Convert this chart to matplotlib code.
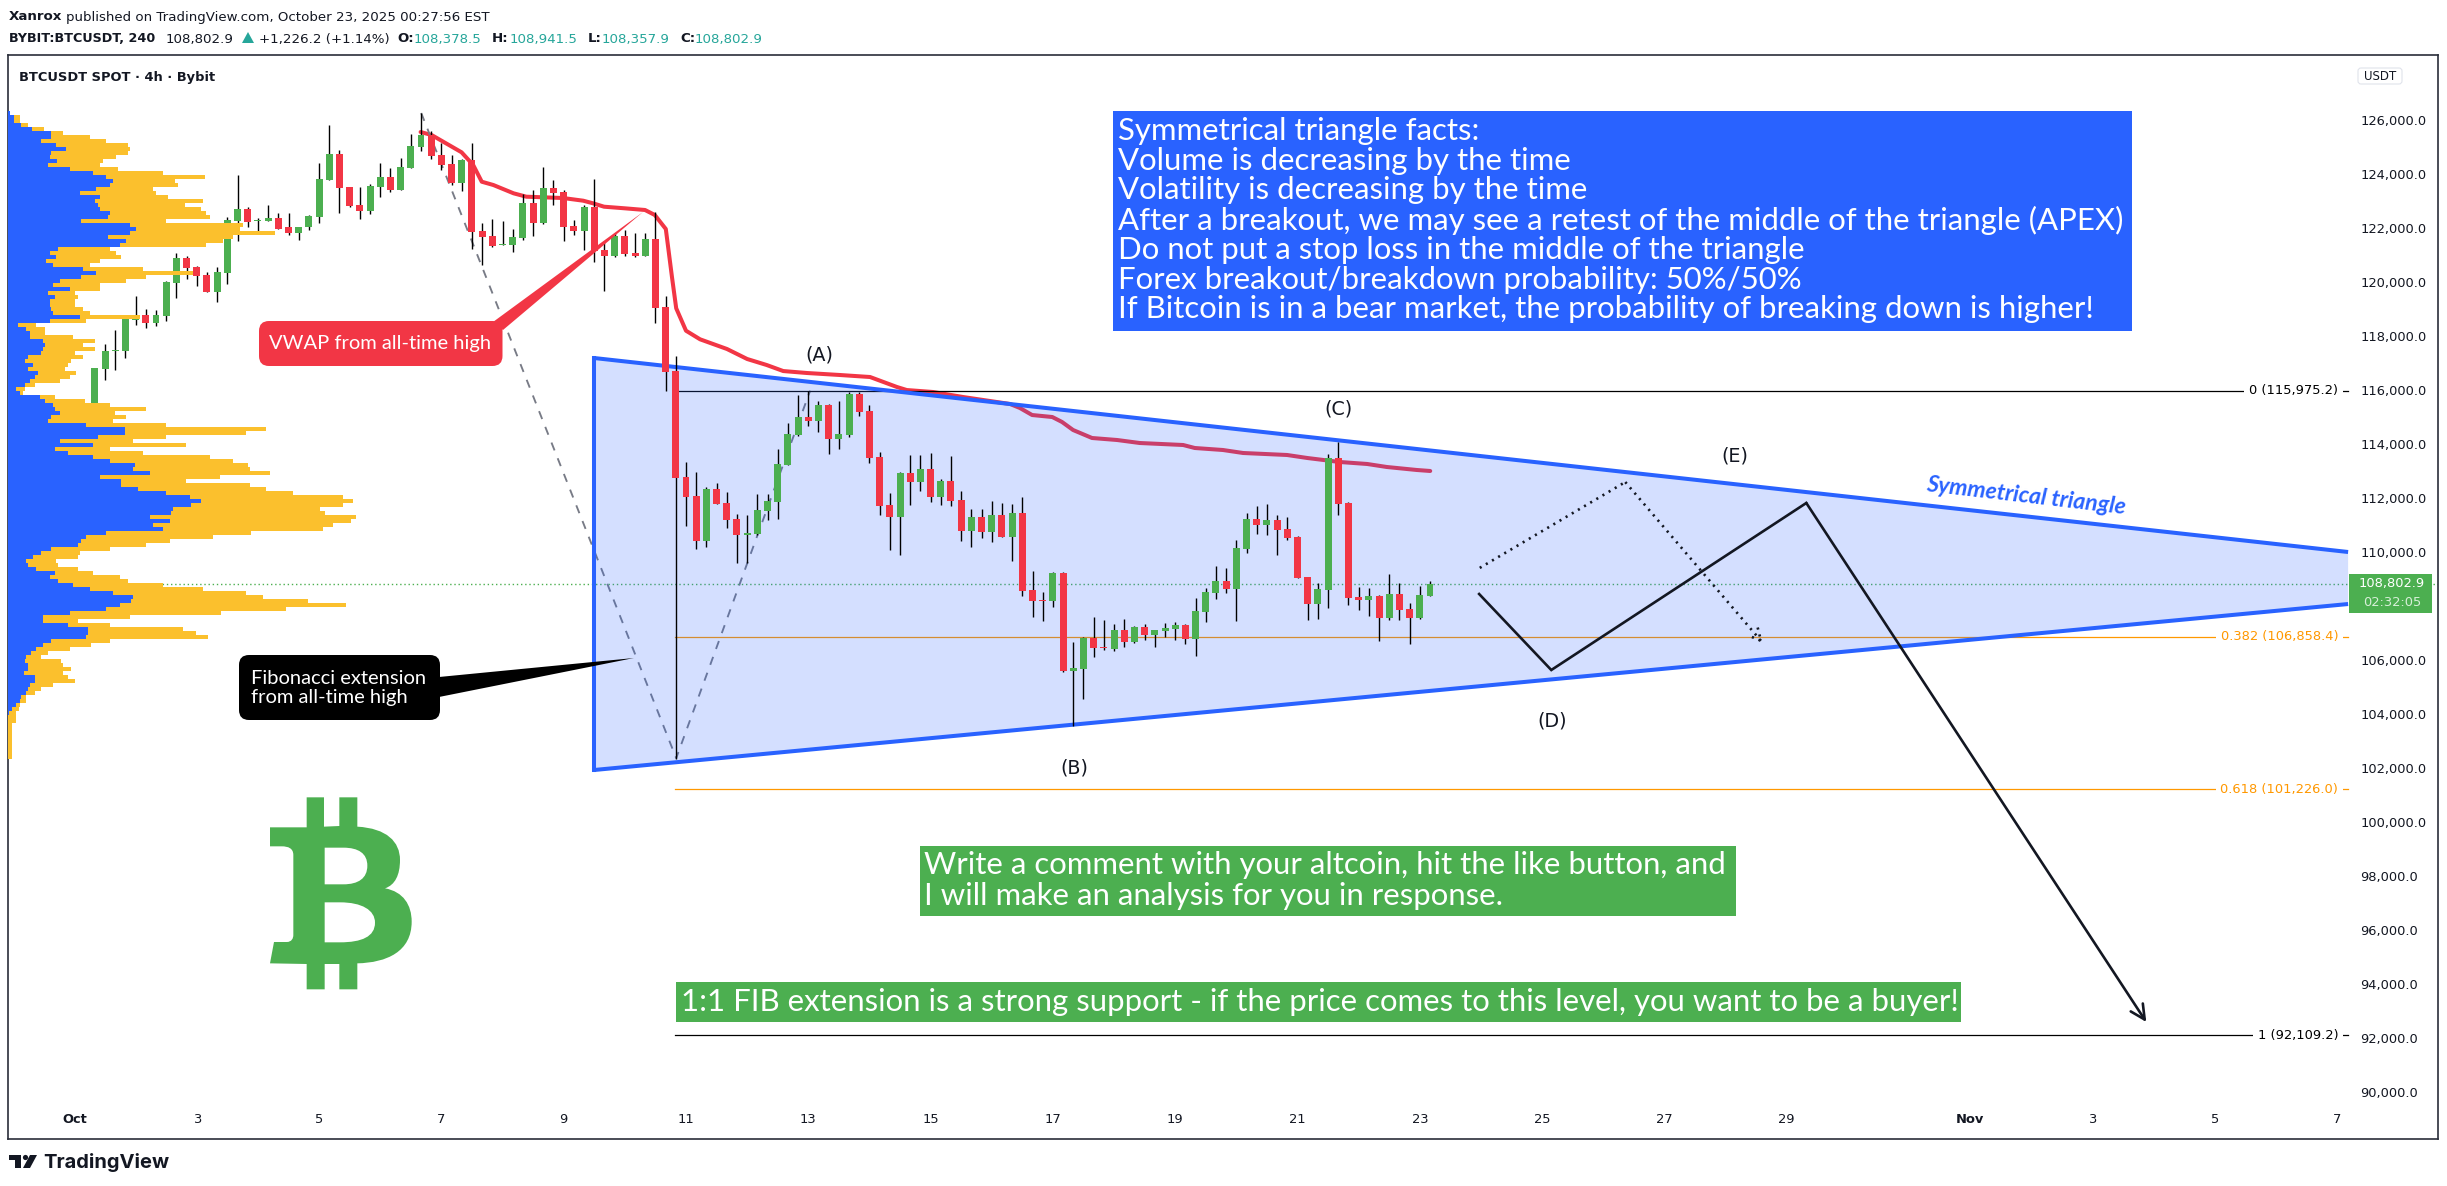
#!/usr/bin/python3
import numpy as np
import matplotlib
matplotlib.use('Agg')
import matplotlib.pyplot as plt
from matplotlib.patches import FancyBboxPatch, PathPatch, Polygon, Circle, Rectangle
from matplotlib.path import Path

# 4h candles, first one on Oct 1 08:00, x axis is "day of October"
candle_open = [115446, 116779, 117445, 117445, 118593, 118778, 118482, 118741, 119975, 120888, 120555, 120259,
    119629, 120333, 122258, 122702, 122258, 122258, 122369, 122017, 121813, 122017, 122406, 123775,
    124738, 123504, 122850, 122640, 123516, 123886, 123417, 124219, 124997, 125441, 124701, 124368,
    123664, 124516, 121887, 121702, 121369, 121369, 121628, 122924, 122183, 123479, 123331, 122072,
    121887, 122776, 121184, 120962, 121702, 121073, 120962, 121591, 119074, 116704, 112780, 112077,
    110411, 112336, 111818, 111225, 110633, 110670, 111522, 111855, 113224, 114335, 115001, 114853,
    115446, 114187, 114335, 115853, 115224, 113521, 111744, 111299, 112928, 112595, 113076, 112040,
    112632, 111929, 110781, 111299, 110744, 111373, 110559, 111448, 108597, 108227, 108190, 109226,
    105598, 105672, 106820, 106487, 106413, 107116, 106672, 107227, 106931, 107079, 107153, 107301,
    106783, 107783, 108486, 108930, 108634, 110115, 111225, 111003, 111188, 110855, 110559, 109078,
    108079, 108597, 113484, 111818, 108338, 108227, 108375, 107560, 108449, 107894, 107560, 108378.5]
candle_high = [116803, 117704, 118222, 118654, 119481, 118999, 118963, 120037, 121073, 120962, 120592, 120357,
    120542, 122393, 123961, 122776, 122356, 122850, 122554, 122554, 122036, 122480, 124405, 125812,
    124886, 123504, 123504, 123615, 124392, 124207, 124577, 125478, 126268, 125577, 125133, 124701,
    124540, 125145, 122183, 122331, 122257, 121961, 123257, 123405, 124256, 123775, 123405, 122294,
    122850, 123812, 121517, 121801, 121924, 121813, 121801, 122590, 119481, 117260, 113336, 112965,
    112410, 112558, 112225, 111410, 111374, 112151, 112151, 113817, 114779, 115816, 115976, 115594,
    115483, 115594, 115927, 115927, 115446, 113706, 112188, 112965, 113595, 113595, 113669, 112706,
    113558, 112262, 111596, 111596, 111892, 111818, 111781, 112040, 109300, 108523, 109251, 109263,
    106672, 106857, 107598, 107486, 107338, 107523, 107252, 107338, 107116, 107375, 107412, 107338,
    108301, 108671, 109485, 109411, 110448, 111448, 111707, 111781, 111374, 111299, 110596, 109078,
    108856, 113632, 114088, 111855, 108708, 108671, 108412, 109189, 108856, 108116, 108745, 108941.5]
candle_low = [115446, 116372, 116742, 117198, 118407, 118309, 118383, 118568, 119420, 120123, 119851, 119629,
    119271, 119925, 121517, 122036, 121887, 122258, 121962, 121739, 121554, 121925, 122184, 123775,
    122566, 122763, 122344, 122529, 123158, 123343, 123417, 124219, 124849, 124565, 124145, 123590,
    123368, 121221, 120629, 121307, 121369, 121110, 121554, 121702, 122146, 122850, 121517, 121739,
    121184, 120740, 119666, 120925, 120962, 120937, 120962, 118481, 115976, 102328, 110966, 110115,
    110189, 111793, 110892, 109597, 109597, 110633, 111188, 111225, 113224, 114298, 114668, 114446,
    113632, 113817, 114261, 115038, 113299, 111374, 110078, 109893, 111744, 112262, 111855, 111744,
    111707, 110411, 110189, 110522, 110374, 110559, 109671, 108375, 107597, 107449, 107968, 105561,
    103562, 104562, 106117, 106376, 106339, 106487, 106635, 106758, 106499, 106857, 106746, 106598,
    106154, 107412, 108264, 108486, 107449, 109967, 110670, 110633, 109893, 110448, 109041, 107486,
    107523, 107931, 111374, 108042, 107857, 107634, 106709, 107486, 107486, 106598, 107523, 108357.9]
candle_close = [116803, 117445, 117482, 118654, 118778, 118482, 118778, 120000, 120888, 120518, 120222, 119629,
    120370, 122295, 122702, 122221, 122295, 122369, 121962, 121813, 122036, 122443, 123813, 124738,
    123491, 122825, 122640, 123553, 123886, 123405, 124256, 125034, 125441, 124664, 124331, 123664,
    124516, 121850, 121665, 121332, 121406, 121665, 122924, 122183, 123479, 123294, 122035, 121887,
    122776, 121147, 120962, 121702, 121036, 120962, 121591, 119037, 116668, 112756, 112052, 110411,
    112336, 111793, 111188, 110633, 110707, 111558, 111892, 113262, 114372, 115001, 114853, 115446,
    114187, 114372, 115853, 115187, 113484, 111707, 111299, 112928, 112595, 113076, 112040, 112632,
    111892, 110781, 111299, 110744, 111373, 110559, 111448, 108560, 108190, 108190, 109226, 105598,
    105709, 106820, 106450, 106450, 107116, 106672, 107227, 106931, 107116, 107190, 107301, 106783,
    107820, 108523, 108930, 108634, 110152, 111225, 111003, 111188, 110818, 110522, 109041, 108079,
    108634, 113484, 111781, 108301, 108227, 108375, 107560, 108449, 107856, 107560, 108412, 108802.9]

vwap_day = [6.66, 6.84, 7.03, 7.33, 7.52, 7.66, 7.85, 8.18, 8.39, 8.67, 8.99, 9.32, 9.48, 9.66, 10.0, 10.33, 10.49,
    10.67, 10.77, 10.84, 11.0, 11.23, 11.67, 12.0, 12.32, 12.59, 12.98, 13.52, 14.01, 14.45, 14.61, 15.04, 15.53,
    15.97, 16.3, 16.46, 16.66, 16.99, 17.15, 17.33, 17.64, 18.05, 18.42, 19.13, 19.32, 19.78, 20.11, 20.83, 21.16,
    21.69, 22.14, 22.46, 22.95, 23.17]
vwap_price = [125552, 125441, 125193, 124801, 124331, 123712, 123590, 123283, 123157, 123135, 123108, 123009, 122912,
    122787, 122727, 122665, 122480, 121961, 120195, 119026, 118196, 117878, 117519, 117149, 116926, 116703, 116630,
    116556, 116482, 116112, 116000, 115927, 115742, 115594, 115483, 115335, 115075, 115001, 114816, 114520, 114224,
    114150, 114039, 113965, 113854, 113780, 113669, 113595, 113484, 113336, 113262, 113151, 113040, 113003]

# volume profile rows, top row first
vp_top_price = 126256
vp_row = 148
vp_up = [5, 17, 17, 40, 71, 130, 130, 100, 145, 175, 130, 125, 147, 120, 185, 255, 295, 315, 305, 265, 215, 275, 260,
    270, 275, 305, 300, 220, 365, 385, 365, 300, 355, 335, 150, 125, 145, 115, 135, 225, 265, 220, 155, 135, 185,
    120, 140, 125, 125, 130, 135, 215, 125, 30, 55, 65, 65, 105, 110, 105, 100, 60, 50, 75, 60, 90, 80, 65, 50, 25,
    35, 95, 110, 135, 140, 155, 130, 120, 235, 350, 350, 270, 155, 255,
    140, 180, 255, 305, 380, 375, 425, 275, 340, 340, 390, 475, 545, 580, 550, 495, 490, 425, 485, 435, 465, 295,
    235, 220, 210, 130, 100, 75, 53, 60, 85, 140, 125, 150, 195, 245, 315, 375, 370, 335, 295, 185, 105, 105, 180,
    240, 240, 235, 130, 105, 85, 70, 53, 50, 60, 60, 47, 80, 80, 65, 60, 55, 40, 35, 25, 13, 3, 0, 0,
    0, 0, 0, 0, 0, 0, 0, 0, 0]
vp_down = [0, 18, 18, 20, 36, 35, 115, 193, 215, 190, 230, 200, 138, 155, 145, 210, 295, 185, 205, 170, 230, 205, 325,
    260, 305, 290, 305, 255, 340, 310, 435, 375, 290, 260, 155, 200, 195, 160, 110, 180, 290, 195, 200, 140, 90,
    80, 70, 75, 75, 95, 110, 180, 110, 55, 55, 45, 130, 155, 115, 155, 100, 165, 140, 105, 110, 115, 105, 90, 30, 25,
    10, 45, 120, 170, 275, 165, 225, 195, 240, 425, 365, 205, 220, 280,
    165, 225, 350, 370, 340, 350, 360, 360, 195, 385, 385, 380, 460, 455, 455, 440, 460, 620, 545, 540, 480, 435,
    380, 265, 205, 175, 115, 135, 92, 90, 125, 115, 210, 210, 270, 340, 400, 390, 530, 678, 540, 455, 260, 105, 125,
    285, 325, 365, 175, 145, 100, 50, 47, 110, 105, 130, 118, 100, 120, 70, 40, 25, 15, 20, 10, 20, 20, 23, 23,
    13, 13, 13, 13, 13, 13, 13, 13, 13]

tri_day = [9.495, 38.18, 38.18, 9.495]
tri_price = [117186, 110004, 108078, 101933]

fib_levels = [115975.2, 106858.4, 101226.0, 92109.2]
fib_labels = ['0 (115,975.2)', '0.382 (106,858.4)', '0.618 (101,226.0)', '1 (92,109.2)']
fib_colors = ['#000000', '#ff9800', '#ff9800', '#000000']
fib_trend_day = [6.67, 10.84, 13.03]
fib_trend_price = [126256, 102371, 115975]

plan_day = [23.97, 25.15, 29.32, 34.88]
plan_price = [108449, 105635, 111818, 92604]
alt_day = [23.98, 26.36, 28.61]
alt_price = [109415, 112593, 106634]

last_price = 108802.9
price_ticks = list(range(90000, 128000, 2000))
date_ticks = [1, 3, 5, 7, 9, 11, 13, 15, 17, 19, 21, 23, 25, 27, 29, 32, 34, 36, 38]
date_labels = ['Oct', '3', '5', '7', '9', '11', '13', '15', '17', '19', '21', '23', '25', '27', '29', 'Nov', '3', '5', '7']

facts = ['Symmetrical triangle facts:',
         'Volume is decreasing by the time',
         'Volatility is decreasing by the time',
         'After a breakout, we may see a retest of the middle of the triangle (APEX)',
         'Do not put a stop loss in the middle of the triangle',
         'Forex breakout/breakdown probability: 50%/50%',
         'If Bitcoin is in a bear market, the probability of breaking down is higher!']

GREEN = '#4caf50'
RED = '#f23645'
BLUE = '#2962ff'
INK = '#131722'
TEAL = '#26a69a'
BOX_FONT = 'Lato'
BOX_SIZE = 22.4
HEAD_SIZE = 9.6
W, H = 2447, 1186
L, R, T, B = 8, 2438, 55, 1139

fig = plt.figure(figsize=(W / 100, H / 100), dpi=100, facecolor='white')
rect = [L / W, 1 - B / H, (R - L) / W, (B - T) / H]

ax = fig.add_axes(rect, zorder=1)
ax.set_xlim(-0.087, 39.65)
ax.set_ylim(88273, 128403)
for s in ax.spines.values():
    s.set_color('#2a2e39')
    s.set_linewidth(1.2)
ax.yaxis.tick_right()
ax.set_yticks(price_ticks)
ax.set_yticklabels(['{:,.1f}'.format(p) for p in price_ticks], fontsize=9.4, color=INK)
ax.tick_params(axis='y', length=0, pad=-56)
ax.set_xticks(date_ticks)
ax.set_xticklabels(date_labels, fontsize=9.4, color=INK)
ax.tick_params(axis='x', length=0, pad=-19)
for lab in ax.get_xticklabels():
    if lab.get_text() in ('Oct', 'Nov'):
        lab.set_fontweight('bold')

# below the triangle fill
ax.plot(vwap_day, vwap_price, color=RED, lw=2.9, zorder=2, solid_capstyle='round')
ax.plot(fib_trend_day, fib_trend_price, color='#787b86', lw=1.35, ls=(0, (4.5, 4.5)), zorder=2)
ax.axhline(last_price, color=GREEN, lw=1, ls=(0, (1, 2)), zorder=2)
for level, label, col in zip(fib_levels, fib_labels, fib_colors):
    ax.plot([10.82, 38.18], [level, level], color=col, lw=0.9, zorder=2)
    ax.text(38.02, level, label, color=col, fontsize=9.4, ha='right', va='center', zorder=2.5,
            bbox=dict(facecolor='white', edgecolor='none', pad=3.5))

# triangle
ax.add_patch(Polygon(list(zip(tri_day, tri_price)), closed=True, facecolor=BLUE, alpha=0.2, edgecolor='none', zorder=3))
ax.plot(tri_day[:2], tri_price[:2], color=BLUE, lw=2.9, zorder=3.1, solid_capstyle='butt')
ax.plot(tri_day[2:], tri_price[2:], color=BLUE, lw=2.9, zorder=3.1, solid_capstyle='butt')
ax.plot([tri_day[0], tri_day[3]], [tri_price[0], tri_price[3]], color=BLUE, lw=2.9, zorder=3.1, solid_capstyle='projecting')

# candles
days = 4 / 3 + np.arange(len(candle_open)) / 6
o = np.array(candle_open)
c = np.array(candle_close)
cols = [GREEN if b >= a else RED for a, b in zip(o, c)]
ax.vlines(days, candle_low, candle_high, color='black', lw=1.0, zorder=4)
ax.bar(days, np.abs(c - o), bottom=np.minimum(o, c), width=0.114, color=cols, zorder=5, linewidth=0)

# planned moves
ax.plot(plan_day[:3], plan_price[:3], color=INK, lw=1.9, zorder=6, solid_joinstyle='miter')
ax.annotate('', xy=(plan_day[3], plan_price[3]), xytext=(plan_day[2], plan_price[2]), zorder=6,
            arrowprops=dict(arrowstyle='->', color=INK, lw=1.9, mutation_scale=26, shrinkA=0, shrinkB=0))
ax.plot(alt_day[:2], alt_price[:2], color=INK, lw=1.9, ls=(0, (0.8, 1.9)), zorder=6)
ax.annotate('', xy=(alt_day[2], alt_price[2]), xytext=(alt_day[1], alt_price[1]), zorder=6,
            arrowprops=dict(arrowstyle='->', color=INK, lw=1.9, ls=(0, (0.8, 1.9)), capstyle='butt',
                            mutation_scale=22, shrinkA=0, shrinkB=0))

# volume profile, one unit is a third of a pixel
vp_ax = fig.add_axes(rect, zorder=2, sharey=ax)
vp_ax.patch.set_alpha(0)
vp_ax.set_xlim(0, (R - L) * 3)
vp_ax.axis('off')
vp_y = vp_top_price - vp_row * np.arange(len(vp_up))
vp_ax.barh(vp_y, vp_up, height=vp_row, color=BLUE, linewidth=0, antialiased=False)
vp_ax.barh(vp_y, vp_down, left=vp_up, height=vp_row, color='#fbc02d', linewidth=0, antialiased=False)

# overlay in image pixels for the notes
ov = fig.add_axes([0, 0, 1, 1], zorder=3)
ov.patch.set_alpha(0)
ov.set_xlim(0, W)
ov.set_ylim(H, 0)
ov.axis('off')

ov.text(9, 17, 'Xanrox', fontweight='bold', fontsize=HEAD_SIZE, color=INK, va='center')
ov.text(66, 17, 'published on TradingView.com, October 23, 2025 00:27:56 EST', fontsize=HEAD_SIZE, color=INK, va='center')
ov.text(9, 39, 'BYBIT:BTCUSDT, 240', fontweight='bold', fontsize=9.2, color=INK, va='center')
ov.text(166, 39, '108,802.9', fontsize=HEAD_SIZE, color=INK, va='center')
ov.add_patch(Polygon([(242, 43), (254, 43), (248, 32)], closed=True, facecolor=TEAL, edgecolor='none'))
ov.text(259, 39, '+1,226.2 (+1.14%)', fontsize=HEAD_SIZE, color=INK, va='center')
for head, hx, val, vx in [('O:', 397, '108,378.5', 414), ('H:', 492, '108,941.5', 510),
                          ('L:', 588, '108,357.9', 602), ('C:', 680, '108,802.9', 695)]:
    ov.text(hx, 39, head, fontweight='bold', fontsize=HEAD_SIZE, color=INK, va='center')
    ov.text(vx, 39, val, fontsize=HEAD_SIZE, color=TEAL, va='center')
ov.text(19, 77, 'BTCUSDT SPOT · 4h · Bybit', fontweight='bold', fontsize=9.4, color=INK, va='center')

ov.add_patch(FancyBboxPatch((2358, 68), 44, 16, boxstyle='round,pad=0,rounding_size=3', facecolor='white', edgecolor='#e0e3eb', lw=0.8))
ov.text(2380, 76, 'USDT', fontsize=8.5, color=INK, ha='center', va='center')

# last price tag
ov.add_patch(Rectangle((2349, 574), 83, 39, facecolor=GREEN, edgecolor='none'))
ov.text(2392, 584, '108,802.9', fontsize=9.4, color='white', ha='center', va='center')
ov.text(2392, 602, '02:32:05', fontsize=9.4, color='#d7efd8', ha='center', va='center')

# wave labels
for name, wx, wy in [('(A)', 819, 355), ('(B)', 1074, 768), ('(C)', 1338, 409), ('(D)', 1552, 721), ('(E)', 1735, 456)]:
    ov.text(wx, wy, name, fontsize=13.8, color=INK, ha='center', va='center')
ov.text(2026, 496, 'Symmetrical triangle', color=BLUE, fontfamily=BOX_FONT, fontweight='bold', fontstyle='italic',
        fontsize=16.6, rotation=-6.6, rotation_mode='anchor', ha='center', va='center')

# callouts
ov.add_patch(Polygon([(493, 322), (503, 330), (643, 212)], closed=True, facecolor=RED, edgecolor='none'))
ov.add_patch(FancyBboxPatch((259, 321), 243.5, 45, boxstyle='round,pad=0,rounding_size=10', facecolor=RED, edgecolor='none'))
ov.text(380, 343, 'VWAP from all-time high', color='white', fontfamily=BOX_FONT, fontsize=14.5, ha='center', va='center')
ov.add_patch(Polygon([(439, 677), (439, 697), (634, 658)], closed=True, facecolor='black', edgecolor='none'))
ov.add_patch(FancyBboxPatch((239, 655), 201, 65, boxstyle='round,pad=0,rounding_size=10', facecolor='black', edgecolor='none'))
ov.text(251, 678, 'Fibonacci extension', color='white', fontfamily=BOX_FONT, fontsize=14.5, va='center')
ov.text(251, 698, 'from all-time high', color='white', fontfamily=BOX_FONT, fontsize=14.5, va='center')

# text boxes
ov.add_patch(Rectangle((1113, 111), 1019, 220, facecolor=BLUE, edgecolor='none'))
for k, line in enumerate(facts):
    ov.text(1118, 131 + 29.7 * k, line, color='white', fontfamily=BOX_FONT, fontsize=BOX_SIZE, va='center')
ov.add_patch(Rectangle((920, 846), 816, 70, facecolor=GREEN, edgecolor='none'))
ov.text(924, 865, 'Write a comment with your altcoin, hit the like button, and', color='white', fontfamily=BOX_FONT, fontsize=BOX_SIZE, va='center')
ov.text(924, 896, 'I will make an analysis for you in response.', color='white', fontfamily=BOX_FONT, fontsize=BOX_SIZE, va='center')
ov.add_patch(Rectangle((676, 982), 1285, 40, facecolor=GREEN, edgecolor='none'))
ov.text(681, 1002, '1:1 FIB extension is a strong support - if the price comes to this level, you want to be a buyer!',
        color='white', fontfamily=BOX_FONT, fontsize=BOX_SIZE, va='center')

# bitcoin logo (origin at 240,770, three units per pixel)
def logo(x, y):
    return (240 + x / 3, 770 + y / 3)
MO, LI, CU, CL = Path.MOVETO, Path.LINETO, Path.CURVE4, Path.CLOSEPOLY
logo_pts = [
    ((90, 172), MO), ((200, 172), LI), ((200, 82), LI), ((252, 82), LI), ((252, 170), LI), ((298, 168), LI),
    ((298, 82), LI), ((352, 82), LI), ((352, 170), LI),
    ((440, 175), CU), ((480, 215), CU), ((480, 270), CU),
    ((480, 315), CU), ((465, 345), CU), ((435, 355), CU),
    ((490, 365), CU), ((515, 405), CU), ((515, 455), CU),
    ((515, 545), CU), ((440, 578), CU), ((352, 580), CU),
    ((352, 658), LI), ((298, 658), LI), ((298, 582), LI), ((254, 582), LI), ((254, 658), LI), ((200, 658), LI),
    ((200, 582), LI), ((90, 580), LI), ((102, 516), LI), ((140, 516), LI),
    ((155, 516), CU), ((160, 505), CU), ((160, 495), CU),
    ((160, 255), LI),
    ((160, 235), CU), ((145, 229), CU), ((125, 229), CU),
    ((90, 229), LI), ((90, 172), CL),
    ((254, 233), MO), ((254, 343), LI), ((310, 343), LI),
    ((355, 343), CU), ((382, 325), CU), ((382, 287), CU),
    ((382, 250), CU), ((355, 233), CU), ((310, 233), CU),
    ((254, 233), CL),
    ((254, 397), MO), ((254, 517), LI), ((300, 517), LI),
    ((365, 517), CU), ((405, 500), CU), ((405, 458), CU),
    ((405, 420), CU), ((365, 397), CU), ((300, 397), CU),
    ((254, 397), CL)]
ov.add_patch(PathPatch(Path([logo(*p) for p, _ in logo_pts], [code for _, code in logo_pts]), facecolor=GREEN, edgecolor='none'))

# TradingView mark
ov.add_patch(Polygon([(9, 1155), (21, 1155), (21, 1168), (15, 1168), (15, 1160), (9, 1160)], closed=True, facecolor=INK, edgecolor='none'))
ov.add_patch(Circle((25.5, 1157.5), 2.6, facecolor=INK, edgecolor='none'))
ov.add_patch(Polygon([(30, 1155), (37, 1155), (30, 1168), (23, 1168)], closed=True, facecolor=INK, edgecolor='none'))
ov.text(43, 1162, 'TradingView', fontfamily='Inter', fontweight='bold', fontsize=14.5, color=INK, va='center')

fig.savefig('out.png', dpi=100)
